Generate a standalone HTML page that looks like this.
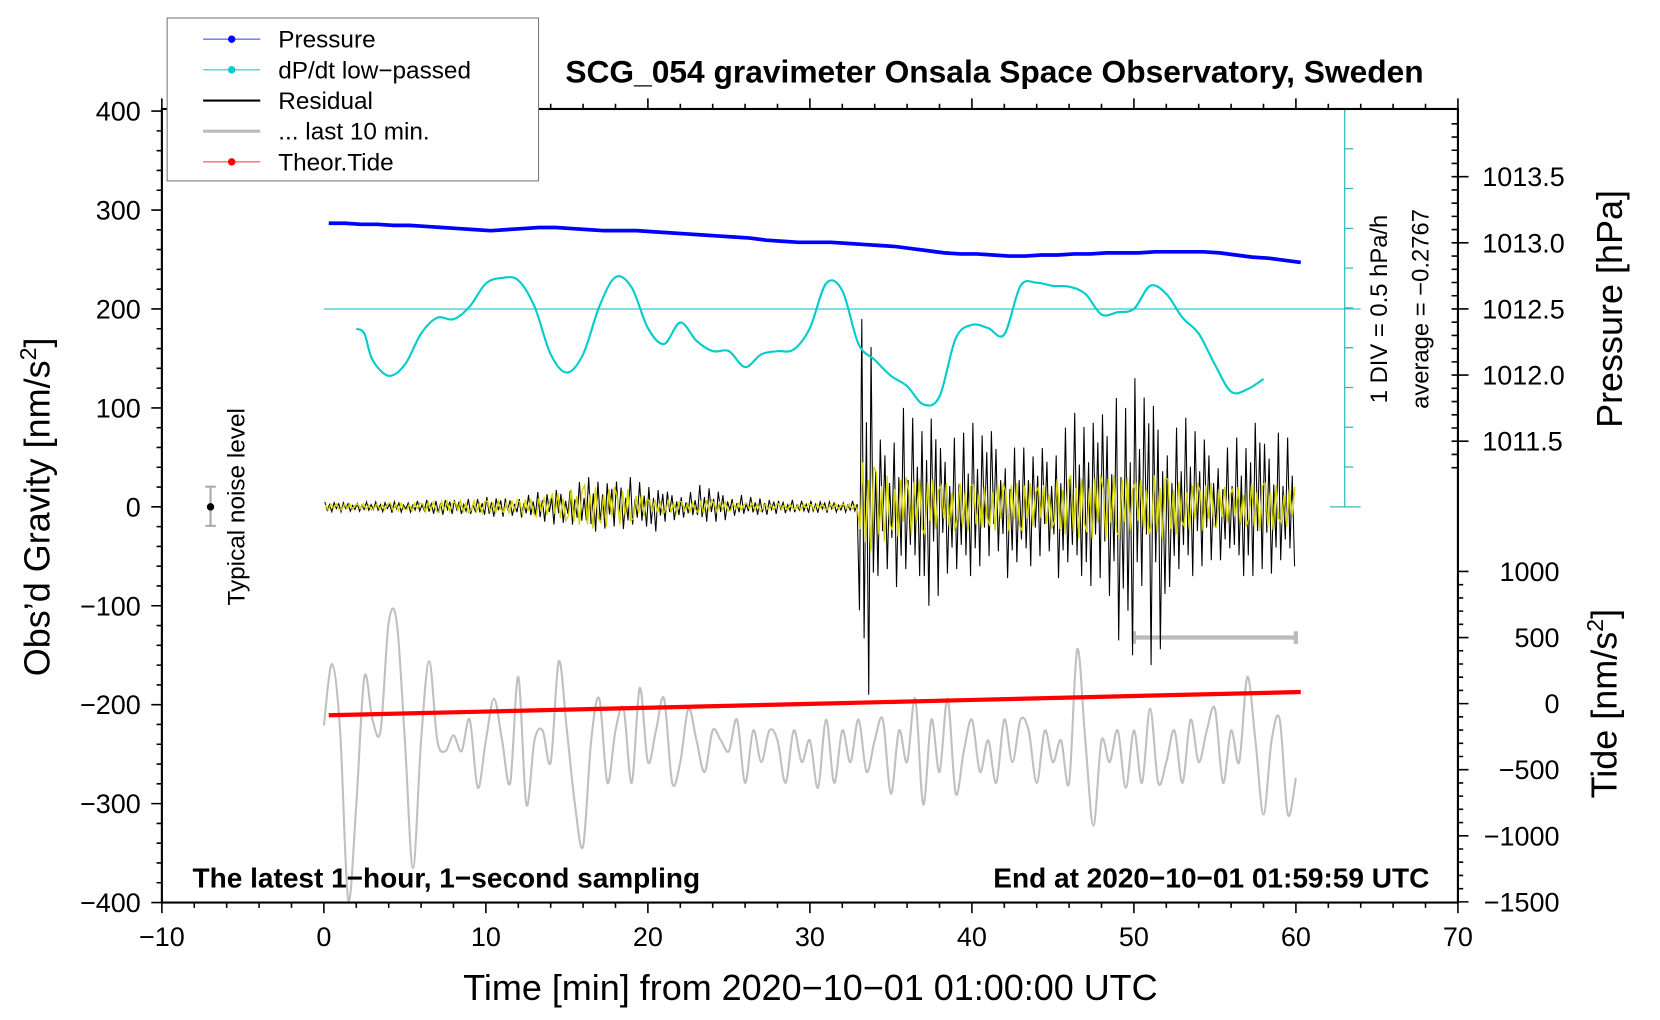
<!DOCTYPE html>
<html><head><meta charset="utf-8">
<style>
html,body{margin:0;padding:0;background:#fff;}
svg{display:block;font-family:"Liberation Sans",Arial,sans-serif;}
</style></head>
<body>
<svg id="chart" width="1660" height="1020" viewBox="0 0 1569 964" preserveAspectRatio="none" xmlns="http://www.w3.org/2000/svg">
<g id="plot"></g>
<g id="axes"></g>
<text x="940" y="78" text-anchor="middle" font-size="30" font-weight="bold">SCG_054 gravimeter Onsala Space Observatory, Sweden</text>
<text x="766" y="945" text-anchor="middle" font-size="34">Time [min] from 2020−10−01 01:00:00 UTC</text>
<text transform="translate(47,479) rotate(-90)" text-anchor="middle" font-size="34">Obs’d Gravity [nm/s<tspan font-size="22" dy="-13">2</tspan><tspan dy="13">]</tspan></text>
<text transform="translate(1533,292) rotate(-90)" text-anchor="middle" font-size="34">Pressure [hPa]</text>
<text transform="translate(1528,665) rotate(-90)" text-anchor="middle" font-size="34">Tide [nm/s<tspan font-size="22" dy="-13">2</tspan><tspan dy="13">]</tspan></text>
<text x="182" y="839" font-size="26.5" font-weight="bold">The latest 1−hour, 1−second sampling</text>
<text x="1351" y="839" text-anchor="end" font-size="26.5" font-weight="bold">End at 2020−10−01 01:59:59 UTC</text>
<text transform="translate(231,479) rotate(-90)" text-anchor="middle" font-size="23">Typical noise level</text>
<text transform="translate(1311,292) rotate(-90)" text-anchor="middle" font-size="22.5">1 DIV = 0.5 hPa/h</text>
<text transform="translate(1350,292) rotate(-90)" text-anchor="middle" font-size="22.5">average = −0.2767</text>
<g>
<rect x="158" y="17" width="351" height="154" fill="#fff" stroke="#777" stroke-width="1"/>
<g><line x1="192" y1="37" x2="246" y2="37" stroke="#3333ff" stroke-width="1"/><circle cx="219" cy="37" r="3.5" fill="#0000ff"/><text x="263" y="45" font-size="23">Pressure</text></g>
<g><line x1="192" y1="66" x2="246" y2="66" stroke="#22cccc" stroke-width="1"/><circle cx="219" cy="66" r="3.5" fill="#00cccc"/><text x="263" y="74" font-size="23">dP/dt low−passed</text></g>
<g><line x1="192" y1="95" x2="246" y2="95" stroke="#000" stroke-width="2"/><text x="263" y="103" font-size="23">Residual</text></g>
<g><line x1="192" y1="124" x2="246" y2="124" stroke="#bbb" stroke-width="3"/><text x="263" y="132" font-size="23">... last 10 min.</text></g>
<g><line x1="192" y1="153" x2="246" y2="153" stroke="#ff3333" stroke-width="1"/><circle cx="219" cy="153" r="3.5" fill="#ff0000"/><text x="263" y="161" font-size="23">Theor.Tide</text></g>
</g>
</svg>
<script>
// ---- data ----
const pressureTimes = Array.from({length:61},(_, i)=>i+0.3);
const pressureValues = [1013.148,1013.148,1013.140,1013.140,1013.132,1013.132,1013.124,1013.116,1013.108,1013.100,1013.092,1013.100,1013.108,1013.116,1013.116,1013.108,1013.100,1013.092,1013.092,1013.092,1013.084,1013.076,1013.068,1013.060,1013.052,1013.044,1013.036,1013.020,1013.012,1013.004,1013.004,1013.004,1012.996,1012.988,1012.980,1012.972,1012.956,1012.940,1012.924,1012.916,1012.916,1012.908,1012.900,1012.900,1012.908,1012.908,1012.916,1012.916,1012.924,1012.924,1012.924,1012.932,1012.932,1012.932,1012.932,1012.924,1012.908,1012.892,1012.884,1012.868,1012.852];
const dpdtTimes = [2,2.5,3,4,5,6,7,8,9,10,11,12,13,14,15,16,17,18,19,20,21,22,23,24,25,26,27,28,29,30,31,32,33,34,35,36,37,38,39,40,41,42,43,44,45,46,47,48,49,50,51,52,53,54,55,56,57,58];
const dpdtValues = [-0.25,-0.31,-0.64,-0.84,-0.70,-0.31,-0.11,-0.13,0.03,0.32,0.39,0.36,0.03,-0.57,-0.80,-0.57,0.03,0.40,0.27,-0.24,-0.44,-0.17,-0.40,-0.53,-0.53,-0.73,-0.57,-0.53,-0.51,-0.24,0.32,0.23,-0.44,-0.64,-0.84,-0.97,-1.20,-1.10,-0.37,-0.20,-0.24,-0.32,0.29,0.33,0.29,0.28,0.19,-0.07,-0.04,0,0.29,0.19,-0.11,-0.31,-0.70,-1.04,-1.01,-0.88];
const residualHigh = [5,5,5,5,6,6,7,8,8,8,10,10,12,15,20,25,30,28,30,25,20,18,15,22,18,12,10,8,7,6,6,6,6,190,80,100,90,105,70,75,85,90,60,60,70,80,95,100,110,100,130,120,80,90,80,60,70,100,75,70,70];
const residualLow = [-5,-5,-5,-5,-6,-6,-7,-8,-8,-8,-10,-10,-12,-15,-18,-20,-25,-22,-25,-20,-25,-15,-12,-15,-15,-10,-8,-8,-7,-6,-6,-6,-6,-190,-70,-90,-70,-100,-75,-70,-60,-50,-80,-60,-50,-80,-70,-80,-100,-150,-80,-160,-90,-70,-60,-60,-70,-70,-75,-60,-60];
const filteredAmp = [3,3,3,3,4,4,5,6,6,6,6,7,8,10,14,18,22,20,18,12,7,6,5,7,5,4,4,3,3,3,3,3,3,45,35,30,28,28,24,24,22,24,24,24,22,28,32,32,32,30,28,32,28,24,24,20,20,24,24,20,20];
const lastTenTimes = Array.from({length:121},(_, i)=>i*0.5);
const lastTenValues = [-221,-159,-226,-397,-301,-172,-215,-226,-117,-117,-236,-365,-236,-156,-236,-247,-231,-247,-215,-284,-236,-194,-236,-279,-172,-301,-236,-226,-258,-156,-226,-301,-343,-236,-194,-279,-226,-204,-279,-183,-258,-226,-194,-279,-258,-204,-236,-268,-226,-236,-247,-215,-279,-226,-258,-226,-236,-279,-226,-258,-236,-284,-215,-279,-226,-258,-215,-268,-236,-215,-290,-226,-258,-194,-301,-215,-268,-194,-290,-247,-215,-268,-236,-279,-215,-258,-215,-226,-279,-226,-258,-236,-279,-144,-236,-322,-236,-258,-226,-284,-226,-279,-204,-279,-258,-226,-279,-215,-258,-226,-204,-279,-226,-258,-172,-236,-311,-236,-215,-311,-274];
const tideTimes = [0.3,10,20,30,40,50,60.3];
const tideValues = [-88,-60,-31,-2,28,58,88];
const xTicks = [-10,0,10,20,30,40,50,60,70];
const yTicks = [400,300,200,100,0,-100,-200,-300,-400];
const pressureTicks = [1013.5,1013.0,1012.5,1012.0,1011.5];
const tideTicks = [1000,500,0,-500,-1000,-1500];

// ---- scales ----
const X0=153,X1=1378,Y0=105,Y1=853;
const xs=t=>X0+(t+10)/80*(X1-X0);
const ys=g=>479-g*(Y1-Y0)/800;
const yp=p=>292-(p-1012.5)*125;
const yd=v=>292-v*75.2;
const yt=v=>665-v*0.1249;
const NS="http://www.w3.org/2000/svg";
const plot=document.getElementById('plot'), axes=document.getElementById('axes');
function mk(tag,attrs,parent){const e=document.createElementNS(NS,tag);for(const k in attrs)e.setAttribute(k,attrs[k]);parent.appendChild(e);return e;}
function smooth(pts){let d=`M${pts[0][0]},${pts[0][1]}`;for(let i=0;i<pts.length-1;i++){const p0=pts[i-1]||pts[i],p1=pts[i],p2=pts[i+1],p3=pts[i+2]||p2;d+=` C${p1[0]+(p2[0]-p0[0])/6},${p1[1]+(p2[1]-p0[1])/6} ${p2[0]-(p3[0]-p1[0])/6},${p2[1]-(p3[1]-p1[1])/6} ${p2[0]},${p2[1]}`;}return d;}

let el=mk('path',{d:smooth(lastTenTimes.map((t,i)=>[xs(t),ys(lastTenValues[i])])),fill:'none',stroke:'#c0c0c0','stroke-width':2},plot);


el=mk('path',{d:`M${xs(50)},${yt(500)}H${xs(60)}M${xs(50)},${yt(500)-6}v12M${xs(60)},${yt(500)-6}v12`,stroke:'#bbb','stroke-width':4,fill:'none'},plot);


el=mk('polyline',{points:tideTimes.map((t,i)=>`${xs(t)},${yt(tideValues[i])}`).join(' '),fill:'none',stroke:'#ff0000','stroke-width':4},plot);


const pat=[1,-0.7,0.45,-1,0.85,-0.35,0.65,-0.9,0.3,-0.55];
const fpat=[0.6,-1,0.9,-0.5,1,-0.8];
let rp=[],fp=[];
for(let m=0;m<60;m++){for(let k=0;k<7;k++){const t=m+k/7+0.06;const f=pat[(k+m*3)%10];const g=f>0?residualHigh[m]*f:-residualLow[m]*f;rp.push(`${xs(t)},${ys(g)}`);}
for(let k=0;k<6;k++){const t=m+k/6+0.1;fp.push(`${xs(t)},${ys(filteredAmp[m]*fpat[(k+m)%6])}`);}}
el=mk('polyline',{points:rp.join(' '),fill:'none',stroke:'#000','stroke-width':1},plot);


el=mk('polyline',{points:fp.join(' '),fill:'none',stroke:'#d4d400','stroke-width':1.3},plot);


el=mk('line',{x1:xs(0),y1:292,x2:1286,y2:292,stroke:'#33cccc','stroke-width':1.2},plot);


el=mk('path',{d:smooth(dpdtTimes.map((t,i)=>[xs(t),yd(dpdtValues[i])])),fill:'none',stroke:'#00cccc','stroke-width':2},plot);


el=mk('polyline',{points:pressureTimes.map((t,i)=>`${xs(t)},${yp(pressureValues[i])}`).join(' '),fill:'none',stroke:'#0000ff','stroke-width':3.5},plot);


let d=`M1271,103V479M1257,479H1286M1257,103H1286`;
for(let i=1;i<10;i++){d+=`M1271,${103+i*37.6}h8`;}
el=mk('path',{d:d,stroke:'#33bbbb','stroke-width':1.2,fill:'none'},plot);


el=mk('path',{d:`M199,460V497M194,460h10M194,497h10`,stroke:'#aaa','stroke-width':2,fill:'none'},plot);


mk('circle',{cx:199,cy:479,r:3.5,fill:'#000'},plot);

mk('rect',{x:X0,y:Y0-2,width:X1-X0,height:Y1-Y0+2,fill:'none',stroke:'#000','stroke-width':2},axes);
let ad='';
for(let t=-10;t<=70;t+=2){const x=xs(t);const mj=t%10===0;ad+=`M${x},${Y1}v${mj?10:5}M${x},${Y0-2}v${mj?-10:-5}`;}
for(let g=-400;g<=400;g+=20){const y=ys(g);ad+=`M${X0},${y}h${g%100===0?-10:-5}`;}
for(let p=1011.3;p<=1014.0;p+=0.1){const y=yp(p);if(y<Y0||y>479)continue;ad+=`M${X1},${y}h-6`;}
for(let v=-1500;v<=1000;v+=100){const y=yt(v);ad+=`M${X1},${y}h${v%500===0?10:5}`;}
pressureTicks.forEach(p=>{ad+=`M${X1},${yp(p)}h10`;});
mk('path',{d:ad,stroke:'#000','stroke-width':1.5,fill:'none'},axes);
xTicks.forEach(t=>{const e=mk('text',{x:xs(t),y:894,'text-anchor':'middle','font-size':25.5},axes);e.textContent=String(t).replace('-','−');

});
yTicks.forEach(g=>{const e=mk('text',{x:133,y:ys(g)+9,'text-anchor':'end','font-size':25.5},axes);e.textContent=String(g).replace('-','−');

});
pressureTicks.forEach(p=>{const e=mk('text',{x:1401,y:yp(p)+9,'font-size':25.5},axes);e.textContent=p.toFixed(1);

});
tideTicks.forEach(v=>{const e=mk('text',{x:1474,y:yt(v)+9,'text-anchor':'end','font-size':25.5},axes);e.textContent=String(v).replace('-','−');

});
</script>
</body></html>
